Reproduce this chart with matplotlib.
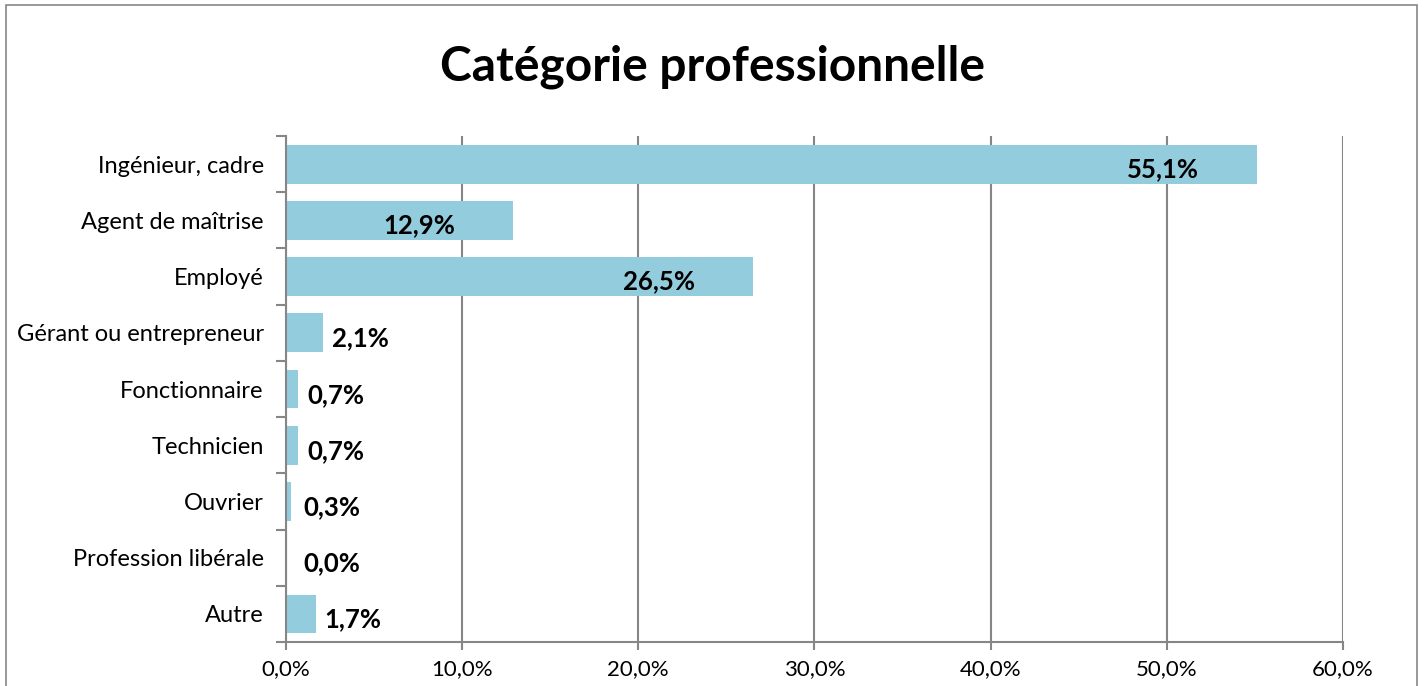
import matplotlib.pyplot as plt
from matplotlib.patches import Rectangle
from matplotlib.ticker import FuncFormatter, FixedLocator
import numpy as np

categories = [
    "Ingénieur, cadre",
    "Agent de maîtrise",
    "Employé",
    "Gérant ou entrepreneur",
    "Fonctionnaire",
    "Technicien",
    "Ouvrier",
    "Profession libérale",
    "Autre",
]
values = [55.1, 12.9, 26.5, 2.1, 0.7, 0.7, 0.3, 0.0, 1.7]
x_ticks = [0, 10, 20, 30, 40, 50, 60]

BAR_COLOR = "#93CDDD"
GRID_COLOR = "#868686"

plt.rcParams["font.family"] = ["Lato", "DejaVu Sans"]

fig = plt.figure(figsize=(14.24, 6.86), dpi=100)
ax = fig.add_axes([0.2008, 0.0641, 0.7423, 0.7376])

# outer chart border (Excel chart area)
fig.patches.append(Rectangle((6 / 1424, -0.05), 1411 / 1424, 1 - 5 / 686 + 0.05,
                             transform=fig.transFigure, fill=False,
                             edgecolor=GRID_COLOR, linewidth=1.2))

y = np.arange(len(categories))
ax.barh(y, values, height=0.69, color=BAR_COLOR, zorder=3)

ax.set_xlim(0, 60)
ax.set_ylim(len(categories) - 0.5, -0.5)

ax.set_xticks(x_ticks)
ax.xaxis.set_major_formatter(FuncFormatter(lambda v, p: f"{v:.1f}%".replace(".", ",")))
ax.grid(axis="x", color=GRID_COLOR, linewidth=1.5, zorder=1)
ax.tick_params(axis="x", length=6, width=1.5, color=GRID_COLOR, labelsize=16, pad=6)

ax.set_yticks(y)
ax.set_yticklabels(categories, fontsize=17)
ax.yaxis.set_minor_locator(FixedLocator(np.arange(-0.5, len(categories), 1.0)))
ax.tick_params(axis="y", which="major", length=0, pad=16)
ax.tick_params(axis="y", which="minor", length=7, width=1.5, color=GRID_COLOR)

for s in ["top", "right"]:
    ax.spines[s].set_visible(False)
for s in ["left", "bottom"]:
    ax.spines[s].set_color(GRID_COLOR)
    ax.spines[s].set_linewidth(1.5)
    ax.spines[s].set_zorder(4)

for yi, v in zip(y, values):
    label = f"{v:.1f}%".replace(".", ",")
    if v > 10:
        ax.text(v - 3.3, yi + 0.08, label, ha="right", va="center",
                fontsize=18.5, fontweight="bold", zorder=5)
    else:
        ax.text(max(v + 0.5, 1.0), yi + 0.1, label, ha="left", va="center",
                fontsize=18.5, fontweight="bold", zorder=5)

fig.text(0.5, 0.903, "Catégorie professionnelle", ha="center", va="center",
         fontsize=34.5, fontweight="bold")

fig.savefig("out.png", dpi=100)
